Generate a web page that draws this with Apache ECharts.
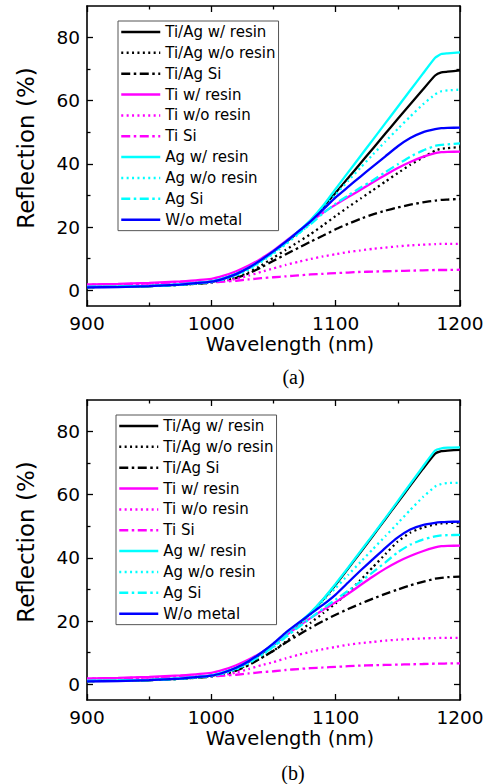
<!DOCTYPE html>
<html><head><meta charset="utf-8">
<script src="https://cdn.jsdelivr.net/npm/echarts@6/dist/echarts.min.js"></script>
<style>html,body{margin:0;padding:0;background:#fff}#chart{width:493px;height:784px}</style>
</head><body><div id="chart"></div>
<script>
// ---------- data ----------
const wavelength = [900, 925, 950, 975, 1000, 1010, 1020, 1030, 1040, 1050, 1060, 1070, 1080, 1090, 1100, 1110, 1120, 1130, 1140, 1150, 1160, 1170, 1180, 1185, 1190, 1200];

const seriesNames = ['Ti/Ag w/ resin', 'Ti/Ag w/o resin', 'Ti/Ag Si', 'Ti w/ resin', 'Ti w/o resin', 'Ti Si', 'Ag w/ resin', 'Ag w/o resin', 'Ag Si', 'W/o metal'];

// panel (a)
const a_TiAgResin   = [1.0,1.1,1.3,1.8,2.7,3.7,5.1,7.0,9.4,12.2,15.2,18.4,22.0,26.4,30.9,35.5,40.2,44.9,49.6,54.3,58.9,63.5,68.0,69.0,69.2,69.6];
const a_TiAgNoResin = [1.0,1.1,1.3,1.7,2.4,3.1,4.1,5.6,7.8,10.3,12.8,15.3,17.8,20.6,23.5,26.3,29.0,31.7,34.4,37.1,39.7,42.0,44.2,44.8,45.0,45.3];
const a_TiAgSi      = [1.0,1.1,1.3,1.7,2.4,3.0,3.9,5.3,7.2,9.3,11.4,13.4,15.4,17.3,19.3,21.0,22.6,24.0,25.2,26.2,27.1,27.8,28.4,28.6,28.7,28.9];
const a_TiResin     = [1.8,2.0,2.3,2.8,3.6,4.6,6.0,7.8,10.0,12.6,15.6,18.6,21.7,24.6,27.1,29.5,31.8,34.2,36.5,38.7,40.6,42.2,43.4,43.7,43.8,43.9];
const a_TiNoResin   = [1.7,1.9,2.1,2.4,2.6,2.9,3.6,4.6,5.8,6.9,8.0,9.0,9.9,10.7,11.4,12.1,12.6,13.1,13.5,13.9,14.2,14.4,14.6,14.7,14.7,14.7];
const a_TiSi        = [1.7,1.9,2.1,2.3,2.5,2.7,3.0,3.4,3.8,4.1,4.4,4.7,5.0,5.2,5.4,5.6,5.8,5.9,6.0,6.1,6.2,6.3,6.4,6.4,6.4,6.5];
const a_AgResin     = [1.1,1.2,1.4,1.9,2.8,3.8,5.2,7.1,9.5,12.3,15.3,18.6,22.3,26.8,32.1,37.3,42.5,47.7,52.9,58.1,63.3,68.5,73.6,74.8,75.0,75.3];
const a_AgNoResin   = [1.0,1.1,1.3,1.7,2.6,3.4,4.7,6.5,8.9,11.6,14.6,17.8,21.3,25.8,30.3,34.6,38.8,43.0,47.1,51.1,55.0,58.8,62.0,63.0,63.3,63.5];
const a_AgSi        = [1.0,1.1,1.3,1.7,2.6,3.5,4.9,6.8,9.2,12.0,15.0,18.0,21.0,24.4,27.4,30.0,32.5,34.8,37.4,39.9,42.3,44.2,45.7,46.0,46.2,46.5];
const a_WoMetal     = [0.9,1.0,1.3,1.8,2.7,3.7,5.1,7.1,9.6,12.4,15.4,18.6,21.9,25.6,29.4,32.7,36.0,39.2,42.4,45.6,48.2,50.0,51.0,51.3,51.4,51.5];

// panel (b)
const b_TiAgResin   = [1.0,1.1,1.3,1.8,2.7,3.7,5.1,7.1,9.6,12.5,15.8,19.0,22.6,26.8,31.5,36.6,41.8,47.0,52.3,57.6,62.9,68.1,73.0,73.8,74.0,74.2];
const b_TiAgNoResin = [1.0,1.1,1.3,1.7,2.5,3.3,4.5,6.3,8.3,10.6,13.5,16.5,19.5,22.5,25.6,29.0,33.0,37.1,41.2,45.2,48.0,49.6,50.6,50.9,51.0,51.2];
const b_TiAgSi      = [1.0,1.1,1.3,1.7,2.4,3.1,4.3,6.0,8.3,10.6,13.2,15.6,17.9,20.0,22.0,23.8,25.5,27.1,28.6,30.0,31.3,32.4,33.4,33.7,33.9,34.1];
const b_TiResin     = [1.8,2.0,2.3,2.8,3.6,4.6,6.0,7.8,10.0,12.5,15.5,18.3,21.0,23.6,26.0,28.6,31.4,34.1,36.6,38.8,40.6,42.1,43.3,43.7,43.8,43.9];
const b_TiNoResin   = [1.7,1.9,2.1,2.4,2.6,2.9,3.7,4.8,6.0,7.0,8.2,9.3,10.3,11.1,11.8,12.5,13.0,13.4,13.8,14.1,14.3,14.5,14.6,14.7,14.7,14.7];
const b_TiSi        = [1.7,1.9,2.1,2.3,2.5,2.7,3.0,3.4,3.8,4.1,4.5,4.8,5.1,5.3,5.5,5.7,5.9,6.0,6.1,6.2,6.3,6.4,6.5,6.5,6.6,6.6];
const b_AgResin     = [1.1,1.2,1.4,1.9,2.8,3.8,5.2,7.3,9.8,12.7,16.0,19.3,22.8,27.0,31.8,36.9,42.1,47.3,52.6,58.0,63.4,68.8,74.0,74.7,74.9,75.0];
const b_AgNoResin   = [1.0,1.1,1.3,1.7,2.6,3.4,4.7,6.6,9.0,11.8,15.0,18.3,22.2,26.4,30.5,34.6,38.7,42.8,46.9,51.0,55.2,59.2,62.6,63.4,63.7,63.8];
const b_AgSi        = [1.0,1.1,1.3,1.7,2.6,3.5,4.9,6.8,9.2,11.9,15.0,18.0,21.0,24.0,26.8,29.6,32.5,35.5,38.6,41.8,44.2,45.8,46.8,47.1,47.2,47.3];
const b_WoMetal     = [0.9,1.0,1.3,1.8,2.7,3.7,5.2,7.3,9.9,12.9,16.4,19.4,22.3,25.2,28.4,32.2,36.0,39.6,43.2,46.5,49.0,50.4,51.1,51.3,51.4,51.5];

const xTicks = [900, 1000, 1100, 1200];
const yTicks = [0, 20, 40, 60, 80];
const yMinorTicks = [10, 30, 50, 70];
const xTitle = 'Wavelength (nm)';
const yTitle = 'Reflection (%)';
const panelLabels = ['(a)', '(b)'];

const panelA = [a_TiAgResin, a_TiAgNoResin, a_TiAgSi, a_TiResin, a_TiNoResin, a_TiSi, a_AgResin, a_AgNoResin, a_AgSi, a_WoMetal];
const panelB = [b_TiAgResin, b_TiAgNoResin, b_TiAgSi, b_TiResin, b_TiNoResin, b_TiSi, b_AgResin, b_AgNoResin, b_AgSi, b_WoMetal];

// ---------- styles ----------
const FONT = 'DejaVu Sans';
const DOT = [2, 3.4];
const DASHDOT = [9, 3.5, 2.5, 3.5];
const seriesStyles = [
  {color:'#000000', type:'solid'}, {color:'#000000', type:DOT}, {color:'#000000', type:DASHDOT},
  {color:'#ff00ff', type:'solid'}, {color:'#ff00ff', type:DOT}, {color:'#ff00ff', type:DASHDOT},
  {color:'#00ffff', type:'solid'}, {color:'#00ffff', type:DOT}, {color:'#00ffff', type:DASHDOT},
  {color:'#0000ff', type:'solid'}
];

const gridsPos = [{left:87, top:6, width:373, height:300}, {left:87, top:400, width:373, height:300}];
const legendPos = [{left:118, top:21}, {left:116, top:415}];
const labelPos = [{x:293.5, y:377}, {x:293, y:773}];

const axisLineStyle = {color:'#000', width:1.6};
const tickStyle = {color:'#000', width:1.3};

const xAxes = [], yAxes = [], series = [], legends = [], graphics = [];

gridsPos.forEach((g, gi) => {
  xAxes.push({
    type:'value', gridIndex:gi, position:'bottom', min:xTicks[0], max:xTicks[xTicks.length-1], interval:xTicks[1]-xTicks[0],
    axisLine:{show:true, onZero:false, lineStyle:axisLineStyle},
    axisTick:{show:true, inside:true, length:6, lineStyle:tickStyle},
    minorTick:{show:true, splitNumber:2, length:3.5, lineStyle:tickStyle},
    splitLine:{show:false}, minorSplitLine:{show:false},
    axisLabel:{color:'#000', fontSize:18.5, fontFamily:FONT, margin:8, formatter: v => String(v)},
    name:xTitle, nameLocation:'middle', nameGap:28,
    nameTextStyle:{color:'#000', fontSize:19.5, fontFamily:FONT, padding:[0,0,0,33]}
  });
  xAxes.push({
    type:'value', gridIndex:gi, position:'top', min:xTicks[0], max:xTicks[xTicks.length-1], interval:xTicks[1]-xTicks[0],
    axisLine:{show:true, onZero:false, lineStyle:axisLineStyle},
    axisTick:{show:true, inside:true, length:6, lineStyle:tickStyle},
    minorTick:{show:true, splitNumber:2, length:3.5, lineStyle:tickStyle},
    splitLine:{show:false}, minorSplitLine:{show:false},
    axisLabel:{show:false}
  });
  ['left', 'right'].forEach(pos => {
    yAxes.push({
      type:'value', gridIndex:gi, position:pos, min:-5, max:90,
      axisLine:{show:true, onZero:false, lineStyle:axisLineStyle},
      axisTick:{show:true, inside:true, length:6, lineStyle:tickStyle, customValues:yTicks},
      splitLine:{show:false},
      axisLabel: pos === 'left' ? {show:true, customValues:yTicks, color:'#000', fontSize:18.5, fontFamily:FONT, margin:7, formatter: v => String(v)} : {show:false},
      name: pos === 'left' ? yTitle : '', nameLocation:'middle', nameGap:50,
      nameTextStyle:{color:'#000', fontSize:23, fontFamily:FONT, padding:[0,0,0,16]}
    });
    yAxes.push({
      type:'value', gridIndex:gi, position:pos, min:-5, max:90,
      axisLine:{show:false, onZero:false},
      axisTick:{show:true, inside:true, length:3.5, lineStyle:tickStyle, customValues:yMinorTicks},
      splitLine:{show:false},
      axisLabel:{show:false}
    });
  });
  const data = gi === 0 ? panelA : panelB;
  data.forEach((vals, si) => {
    series.push({
      type:'line', name:seriesNames[si], xAxisIndex:gi*2, yAxisIndex:gi*4,
      data: wavelength.map((x, i) => [x, vals[i]]),
      symbol:'none', showSymbol:false, smooth:0.15,
      lineStyle:{color:seriesStyles[si].color, width:2.3, type:seriesStyles[si].type},
      itemStyle:{color:seriesStyles[si].color},
      emphasis:{disabled:true}, animation:false
    });
  });
  legends.push({
    data:seriesNames, orient:'vertical', left:legendPos[gi].left, top:legendPos[gi].top,
    itemWidth:39, itemHeight:14, itemGap:2.85, padding:[2,3,2,2],
    borderColor:'#555', borderWidth:1, backgroundColor:'#fff', selectedMode:false,
    itemStyle:{opacity:0, borderWidth:0},
    lineStyle:{width:2.5},
    textStyle:{color:'#000', fontSize:15, fontFamily:FONT, lineHeight:18}
  });
  graphics.push({
    type:'text', x:labelPos[gi].x, y:labelPos[gi].y,
    style:{text:panelLabels[gi], fill:'#000', font:'20px "Liberation Serif"', textAlign:'center', textVerticalAlign:'middle'}
  });
});

const chart = echarts.init(document.getElementById('chart'), null, {renderer:'svg'});
chart.setOption({
  animation:false,
  backgroundColor:'#fff',
  grid: gridsPos.map(g => Object.assign({containLabel:false}, g)),
  xAxis: xAxes, yAxis: yAxes, legend: legends, series: series, graphic: graphics
});
</script></body></html>
